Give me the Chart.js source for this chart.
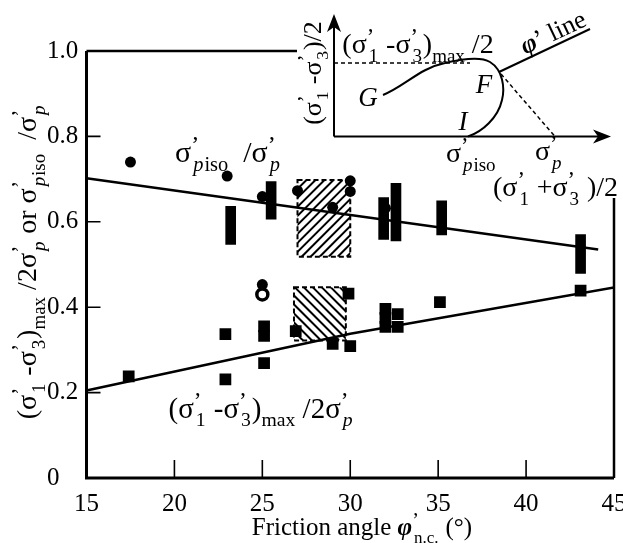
<!DOCTYPE html>
<html lang="en">
<head>
<meta charset="UTF-8">
<title>Friction angle vs stress ratios</title>
<script src="https://cdn.jsdelivr.net/npm/chart.js"></script>
<style>
  body { margin: 0; background: #fff; }
  .wrap { width: 623px; height: 543px; position: relative; }
</style>
</head>
<body>
<div class="wrap"><canvas id="chart"></canvas></div>
<script>
// values
const xTicks = [15, 20, 25, 30, 35, 40, 45];
const yTicks = [0, 0.2, 0.4, 0.6, 0.8, 1.0];

// sigma'p_iso / sigma'p, single tests
const isoDotX = [17.5, 23.0, 25.0, 27.0, 29.0, 30.0, 30.0, 32.0];
const isoDotY = [0.740, 0.707, 0.659, 0.673, 0.634, 0.696, 0.671, 0.632];
// sigma'p_iso / sigma'p, ranges
const isoBarX = [23.2, 25.5, 31.9, 32.6, 35.2, 43.1];
const isoBarLo = [0.547, 0.606, 0.559, 0.555, 0.569, 0.479];
const isoBarHi = [0.636, 0.694, 0.657, 0.690, 0.649, 0.570];

// (sigma'1 - sigma'3)max / 2 sigma'p
const maxX = [17.4, 22.9, 22.9, 25.1, 25.1, 25.1, 26.9, 29.0, 30.0, 29.9, 32.0, 32.0, 32.0, 32.7, 32.7, 35.1, 43.1];
const maxY = [0.238, 0.337, 0.231, 0.355, 0.333, 0.269, 0.344, 0.314, 0.309, 0.432, 0.396, 0.375, 0.354, 0.384, 0.354, 0.412, 0.439];
// two round marks at 25 deg
const extraX = [25.0, 25.0];
const extraY = [0.453, 0.430];

// fitted lines
const isoFitX = [15, 44.1];
const isoFitY = [0.702, 0.535];
const maxFitX = [15, 30, 45];
const maxFitY = [0.205, 0.338, 0.446];

// hatched zones: [xmin, xmax, ymin, ymax]
const isoZone = [27.0, 30.0, 0.518, 0.698];
const maxZone = [26.8, 29.75, 0.322, 0.447];

const SERIF = '"Liberation Serif", "DejaVu Serif", serif';
const P = '\u2019';

// tiny rich text: '' normal, 'i' italic, 'b' bold italic, 's' sub, 'si' sub italic, 'u' sup
function layoutRich(ctx, segs, size) {
  let x = 0, supStart = 0, supEnd = 0, prev = '';
  const out = [];
  for (const [t, m] of segs) {
    const isSub = m === 's' || m === 'si';
    const isSup = m === 'u';
    const fs = isSub ? size * 0.68 : isSup ? size * 0.8 : size;
    const style = (m === 'i' || m === 'si') ? 'italic ' : m === 'b' ? 'italic bold ' : '';
    const font = style + fs.toFixed(1) + 'px ' + SERIF;
    ctx.font = font;
    const w = ctx.measureText(t).width;
    let sx = x;
    if (isSub && prev === 'u') sx = supStart + size * 0.04;
    const dy = isSub ? size * 0.3 : isSup ? -size * 0.34 : 0;
    out.push({ t, font, x: sx, dy });
    if (isSup) { supStart = x + size * 0.03; x += w + size * 0.05; supEnd = x; }
    else if (isSub && prev === 'u') x = Math.max(supEnd, sx + w) + size * 0.03;
    else x = sx + w;
    prev = m;
  }
  return { out, width: x };
}

function drawRich(ctx, segs, x, y, size, align, angle) {
  const lay = layoutRich(ctx, segs, size);
  let x0 = 0;
  if (align === 'center') x0 = -lay.width / 2;
  if (align === 'right') x0 = -lay.width;
  ctx.save();
  ctx.translate(x, y);
  if (angle) ctx.rotate(angle);
  ctx.fillStyle = '#000';
  ctx.textBaseline = 'alphabetic';
  for (const s of lay.out) {
    ctx.font = s.font;
    ctx.fillText(s.t, x0 + s.x, size * 0.33 + s.dy);
  }
  ctx.restore();
}

const sig1 = [['(', ''], ['\u03c3', ''], [P, 'u'], ['1', 's']];
const sig3 = [['\u03c3', ''], [P, 'u'], ['3', 's']];
const sigP = [['\u03c3', ''], [P, 'u'], ['p', 'si']];
const sigIso = [['\u03c3', ''], [P, 'u'], ['p', 'si'], ['iso', 's']];

function hatch(ctx, x0, y0, x1, y1, dir) {
  const h = y1 - y0;
  ctx.save();
  ctx.beginPath();
  ctx.rect(x0, y0, x1 - x0, h);
  ctx.clip();
  ctx.lineWidth = 2;
  ctx.strokeStyle = '#000';
  ctx.beginPath();
  for (let t = -h; t < x1 - x0 + h; t += 9) {
    if (dir > 0) { ctx.moveTo(x0 + t, y1); ctx.lineTo(x0 + t + h, y0); }
    else { ctx.moveTo(x0 + t, y0); ctx.lineTo(x0 + t + h, y1); }
  }
  ctx.stroke();
  ctx.restore();
  ctx.save();
  ctx.setLineDash([5, 3]);
  ctx.lineWidth = 2;
  ctx.strokeRect(x0, y0, x1 - x0, h);
  ctx.restore();
}

const decor = {
  id: 'decor',
  beforeDatasetsDraw(chart) {
    const { ctx, scales: { x, y } } = chart;
    const zones = [[isoZone, 1], [maxZone, -1]];
    for (const [z, d] of zones) {
      hatch(ctx, x.getPixelForValue(z[0]), y.getPixelForValue(z[3]),
        x.getPixelForValue(z[1]), y.getPixelForValue(z[2]), d);
    }
  },
  afterDraw(chart) {
    const { ctx, chartArea: a, scales: { x, y } } = chart;
    ctx.save();
    ctx.strokeStyle = '#000';
    // frame, partly hidden by the inset
    ctx.lineWidth = 3;
    ctx.beginPath();
    ctx.moveTo(a.left, a.top); ctx.lineTo(a.left, a.bottom); ctx.lineTo(a.right, a.bottom);
    ctx.stroke();
    ctx.lineWidth = 2.5;
    ctx.beginPath();
    ctx.moveTo(a.left, a.top); ctx.lineTo(297, a.top);
    ctx.moveTo(a.right, 198); ctx.lineTo(a.right, a.bottom);
    ctx.stroke();
    // inward ticks
    ctx.lineWidth = 1.6;
    ctx.beginPath();
    xTicks.slice(1, -1).forEach(v => {
      const px = x.getPixelForValue(v);
      ctx.moveTo(px, a.bottom); ctx.lineTo(px, a.bottom - 18);
    });
    yTicks.slice(1, -1).forEach(v => {
      const py = y.getPixelForValue(v);
      ctx.moveTo(a.left, py); ctx.lineTo(a.left + 14, py);
    });
    ctx.stroke();
    ctx.restore();

    // series labels
    drawRich(ctx, [...sigIso, ['  /', ''], ...sigP], 228, 152, 30, 'center');
    drawRich(ctx, [...sig1, [' -', ''], ...sig3, [')', ''], ['max', 's'], [' /2', ''], ...sigP], 261, 408, 29, 'center');

    // axis titles
    drawRich(ctx, [...sig1, [' -', ''], ...sig3, [')', ''], ['max', 's'], [' /2', ''], ...sigP,
      [' or ', ''], ...sigIso, ['  /', ''], ...sigP], 27, 262, 28, 'center', -Math.PI / 2);
    drawRich(ctx, [['Friction angle ', ''], ['\u03c6', 'b'], [P, 'u'], ['n.c.', 's'], [' (\u00b0)', '']], 362, 527, 25, 'center');

    drawInset(ctx);
  }
};

function drawInset(ctx) {
  const ox = 334, oy = 136.5;
  ctx.save();
  ctx.strokeStyle = '#000';
  ctx.fillStyle = '#000';
  ctx.lineWidth = 2;
  ctx.beginPath();
  ctx.moveTo(ox, oy); ctx.lineTo(ox, 24);
  ctx.moveTo(ox, oy); ctx.lineTo(600, oy);
  ctx.stroke();
  ctx.beginPath();
  ctx.moveTo(ox, 14); ctx.lineTo(ox - 7, 32); ctx.lineTo(ox, 27); ctx.lineTo(ox + 7, 32); ctx.closePath();
  ctx.fill();
  ctx.beginPath();
  ctx.moveTo(611, oy); ctx.lineTo(593, oy - 7); ctx.lineTo(598, oy); ctx.lineTo(593, oy + 7); ctx.closePath();
  ctx.fill();

  // stress path G -> peak -> F -> I
  ctx.beginPath();
  ctx.moveTo(383, 95);
  ctx.bezierCurveTo(405, 86, 420, 68, 445, 63);
  ctx.bezierCurveTo(462, 59, 480, 56, 490, 62);
  ctx.bezierCurveTo(503, 70, 505, 88, 502, 100);
  ctx.bezierCurveTo(498, 118, 482, 132, 468, oy);
  ctx.stroke();
  // phi' line
  ctx.beginPath();
  ctx.moveTo(499, 72); ctx.lineTo(590, 29);
  ctx.stroke();
  // dashed guides
  ctx.lineWidth = 1.5;
  ctx.setLineDash([4, 3]);
  ctx.beginPath();
  ctx.moveTo(ox, 63); ctx.lineTo(470, 63);
  ctx.moveTo(501, 74); ctx.lineTo(555, oy);
  ctx.stroke();
  ctx.restore();

  drawRich(ctx, [...sig1, [' -', ''], ...sig3, [')', ''], ['max', 's'], [' /2', '']], 418, 44, 28, 'center');
  drawRich(ctx, [['\u03c6', 'b'], [P, ''], [' line', '']], 553, 32, 26, 'center', -0.44);
  drawRich(ctx, [['G', 'i']], 368, 97, 27, 'center');
  drawRich(ctx, [['F', 'i']], 484, 84, 27, 'center');
  drawRich(ctx, [['I', 'i']], 463, 121, 27, 'center');
  drawRich(ctx, sigIso, 446, 153, 28, 'left');
  drawRich(ctx, sigP, 535, 151, 28, 'left');
  drawRich(ctx, [...sig1, [' +', ''], ...sig3, [' )/2', '']], 493, 187, 28, 'left');
  drawRich(ctx, [...sig1, [' -', ''], ...sig3, [')/2', '']], 312, 73, 26, 'center', -Math.PI / 2);
}

const tickFont = { family: SERIF, size: 25 };

new Chart(document.getElementById('chart'), {
  type: 'scatter',
  data: {
    datasets: [
      {
        label: "sigma'p_iso/sigma'p",
        data: isoDotX.map((v, i) => ({ x: v, y: isoDotY[i] })),
        pointStyle: 'circle', pointRadius: 5.5,
        backgroundColor: '#000', borderColor: '#000', borderWidth: 0
      },
      {
        label: 'marks at 25',
        data: extraX.map((v, i) => ({ x: v, y: extraY[i] })),
        pointStyle: 'circle', pointRadius: 5.5,
        backgroundColor: ['#000', '#fff'], borderColor: '#000', borderWidth: [0, 3.5]
      },
      {
        type: 'bar',
        label: "sigma'p_iso/sigma'p range",
        data: isoBarX.map((v, i) => ({ x: v, y: [isoBarLo[i], isoBarHi[i]] })),
        backgroundColor: '#000', barThickness: 10, borderWidth: 0
      },
      {
        label: "(sigma'1-sigma'3)max/2sigma'p",
        data: maxX.map((v, i) => ({ x: v, y: maxY[i] })),
        pointStyle: 'rect', pointRadius: 8.3,
        backgroundColor: '#000', borderColor: '#000', borderWidth: 0
      },
      {
        type: 'line',
        label: 'fit iso',
        data: isoFitX.map((v, i) => ({ x: v, y: isoFitY[i] })),
        borderColor: '#000', borderWidth: 2.5, pointRadius: 0, fill: false
      },
      {
        type: 'line',
        label: 'fit max',
        data: maxFitX.map((v, i) => ({ x: v, y: maxFitY[i] })),
        borderColor: '#000', borderWidth: 2.5, pointRadius: 0, fill: false
      }
    ]
  },
  options: {
    responsive: true,
    maintainAspectRatio: false,
    animation: false,
    layout: { padding: { left: 47, right: 8, top: 51, bottom: 25 } },
    plugins: { legend: { display: false }, tooltip: { enabled: false } },
    scales: {
      x: {
        type: 'linear', min: 15, max: 45, offset: false,
        grid: { display: false, offset: false }, border: { display: false },
        afterBuildTicks: s => { s.ticks = xTicks.map(v => ({ value: v })); },
        afterFit: s => { s.height = 40; s.paddingLeft = 0; s.paddingRight = 0; },
        ticks: { color: '#000', font: tickFont, padding: 3, maxRotation: 0 }
      },
      y: {
        min: 0, max: 1,
        grid: { display: false }, border: { display: false },
        afterBuildTicks: s => { s.ticks = yTicks.map(v => ({ value: v })); },
        afterFit: s => { s.width = 39.5; s.paddingTop = 0; s.paddingBottom = 0; },
        ticks: {
          color: '#000', font: tickFont, crossAlign: 'far',
          callback: v => v === 0 ? '0' : v.toFixed(1)
        }
      }
    }
  },
  plugins: [decor]
});
</script>
</body>
</html>
